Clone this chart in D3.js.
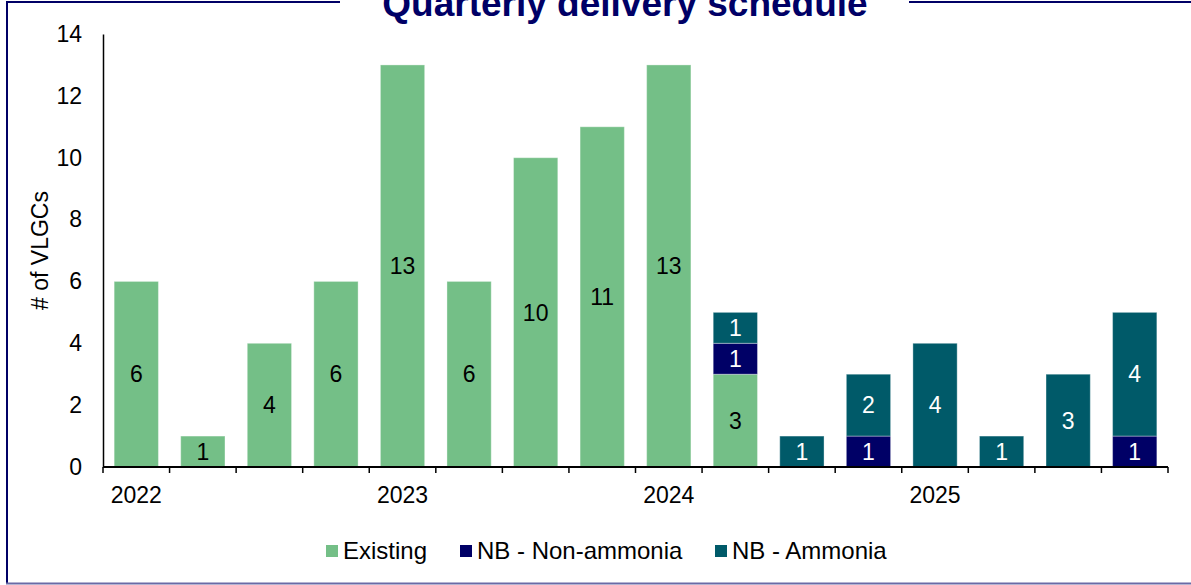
<!DOCTYPE html>
<html>
<head>
<meta charset="utf-8">
<script src="https://cdn.jsdelivr.net/npm/d3@7"></script>
<style>
  body { margin: 0; background: #fff; }
  svg { display: block; font-family: Arial, "Liberation Sans", sans-serif; }
</style>
</head>
<body>
<div id="chart"></div>
<script>
const quarters = ["2022Q1", "2022Q2", "2022Q3", "2022Q4", "2023Q1", "2023Q2", "2023Q3", "2023Q4",
  "2024Q1", "2024Q2", "2024Q3", "2024Q4", "2025Q1", "2025Q2", "2025Q3", "2025Q4"];
const existing = [6, 1, 4, 6, 13, 6, 10, 11, 13, 3, 0, 0, 0, 0, 0, 0];
const nbNonAmmonia = [0, 0, 0, 0, 0, 0, 0, 0, 0, 1, 0, 1, 0, 0, 0, 1];
const nbAmmonia = [0, 0, 0, 0, 0, 0, 0, 0, 0, 1, 1, 2, 4, 1, 3, 4];
const yearLabels = [["2022Q1", "2022"], ["2023Q1", "2023"], ["2024Q1", "2024"], ["2025Q1", "2025"]];
const yTicks = [0, 2, 4, 6, 8, 10, 12, 14];

const seriesInfo = [
  { key: "existing", name: "Existing", color: "#74bf87", text: "#000", values: existing },
  { key: "nonammonia", name: "NB - Non-ammonia", color: "#000066", text: "#fff", values: nbNonAmmonia },
  { key: "ammonia", name: "NB - Ammonia", color: "#005a69", text: "#fff", values: nbAmmonia },
];

const width = 1191, height = 585;
const margin = { top: 34, right: 23, bottom: 118, left: 103 };
const fs = 23;

const svg = d3.select("#chart").append("svg")
  .attr("width", width).attr("height", height)
  .attr("viewBox", [0, 0, width, height]);

// frame
const navy = "#000066";
svg.append("line").attr("x1", 7).attr("x2", 7).attr("y1", 1).attr("y2", 584)
  .attr("stroke", navy).attr("stroke-width", 2);
svg.append("line").attr("x1", 6).attr("x2", width).attr("y1", 583.5).attr("y2", 583.5)
  .attr("stroke", "#6a6aa6").attr("stroke-width", 2);
svg.append("line").attr("x1", 6).attr("x2", 340).attr("y1", 2).attr("y2", 2)
  .attr("stroke", navy).attr("stroke-width", 2);
svg.append("line").attr("x1", 909).attr("x2", width).attr("y1", 2).attr("y2", 2)
  .attr("stroke", navy).attr("stroke-width", 2);

svg.append("text")
  .attr("x", 625).attr("y", 16)
  .attr("text-anchor", "middle")
  .attr("fill", navy)
  .attr("font-size", 37).attr("font-weight", "bold")
  .text("Quarterly delivery schedule");

const x = d3.scaleBand()
  .domain(quarters)
  .range([margin.left, width - margin.right])
  .paddingInner(0.335)
  .paddingOuter(0.1675);

const y = d3.scaleLinear()
  .domain([0, 14])
  .range([height - margin.bottom, margin.top]);

const table = quarters.map((q, i) => {
  const row = { q };
  seriesInfo.forEach((s) => (row[s.key] = s.values[i]));
  return row;
});
const stacked = d3.stack().keys(seriesInfo.map((s) => s.key))(table);

const gBars = svg.append("g");
stacked.forEach((layer, li) => {
  const s = seriesInfo[li];
  const g = gBars.append("g");
  const segs = layer.filter((d) => d[1] - d[0] > 0);
  g.selectAll("rect")
    .data(segs)
    .join("rect")
    .attr("x", (d) => x(d.data.q))
    .attr("width", x.bandwidth())
    .attr("y", (d) => y(d[1]))
    .attr("height", (d) => y(d[0]) - y(d[1]))
    .attr("fill", s.color)
    .attr("stroke", "#ffffff")
    .attr("stroke-opacity", 0.35)
    .attr("stroke-width", 1);
  g.selectAll("text")
    .data(segs)
    .join("text")
    .attr("x", (d) => x(d.data.q) + x.bandwidth() / 2)
    .attr("y", (d) => (y(d[0]) + y(d[1])) / 2)
    .attr("dy", "0.36em")
    .attr("text-anchor", "middle")
    .attr("font-size", fs)
    .attr("fill", s.text)
    .text((d) => d[1] - d[0]);
});

// y axis
svg.append("g")
  .attr("transform", `translate(${margin.left},0)`)
  .call(d3.axisLeft(y).tickValues(yTicks).tickSize(0).tickPadding(21))
  .call((g) => g.select(".domain").attr("stroke", "#000").attr("stroke-width", 1.5))
  .call((g) => g.selectAll(".tick text").attr("font-size", fs).attr("fill", "#000")
    .attr("font-family", "Arial, 'Liberation Sans', sans-serif"));

svg.append("text")
  .attr("transform", `translate(48,${(y(0) + y(14)) / 2}) rotate(-90)`)
  .attr("text-anchor", "middle")
  .attr("font-size", fs)
  .attr("fill", "#000")
  .text("# of VLGCs");

// x axis
const xEdges = quarters.map((q) => x(q) - x.step() * x.paddingInner() / 2)
  .concat([width - margin.right]);
const gX = svg.append("g").attr("transform", `translate(0,${y(0)})`);
gX.append("line")
  .attr("x1", margin.left).attr("x2", width - margin.right)
  .attr("stroke", "#000").attr("stroke-width", 2);
gX.selectAll(".tk")
  .data(xEdges)
  .join("line")
  .attr("class", "tk")
  .attr("x1", (d) => d).attr("x2", (d) => d)
  .attr("y1", 0).attr("y2", 6)
  .attr("stroke", "#000").attr("stroke-width", 1.5);
gX.selectAll(".yl")
  .data(yearLabels)
  .join("text")
  .attr("class", "yl")
  .attr("x", (d) => x(d[0]) + x.bandwidth() / 2)
  .attr("y", 36)
  .attr("text-anchor", "middle")
  .attr("font-size", fs)
  .attr("fill", "#000")
  .text((d) => d[1]);

// legend
const legendX = [326, 460, 715];
const gL = svg.append("g").attr("transform", "translate(0,545)");
seriesInfo.forEach((s, i) => {
  gL.append("rect").attr("x", legendX[i]).attr("y", 0).attr("width", 12).attr("height", 12)
    .attr("fill", s.color);
  gL.append("text").attr("x", legendX[i] + 17).attr("y", 14)
    .attr("font-size", 24).attr("fill", "#000").text(s.name);
});
</script>
</body>
</html>
